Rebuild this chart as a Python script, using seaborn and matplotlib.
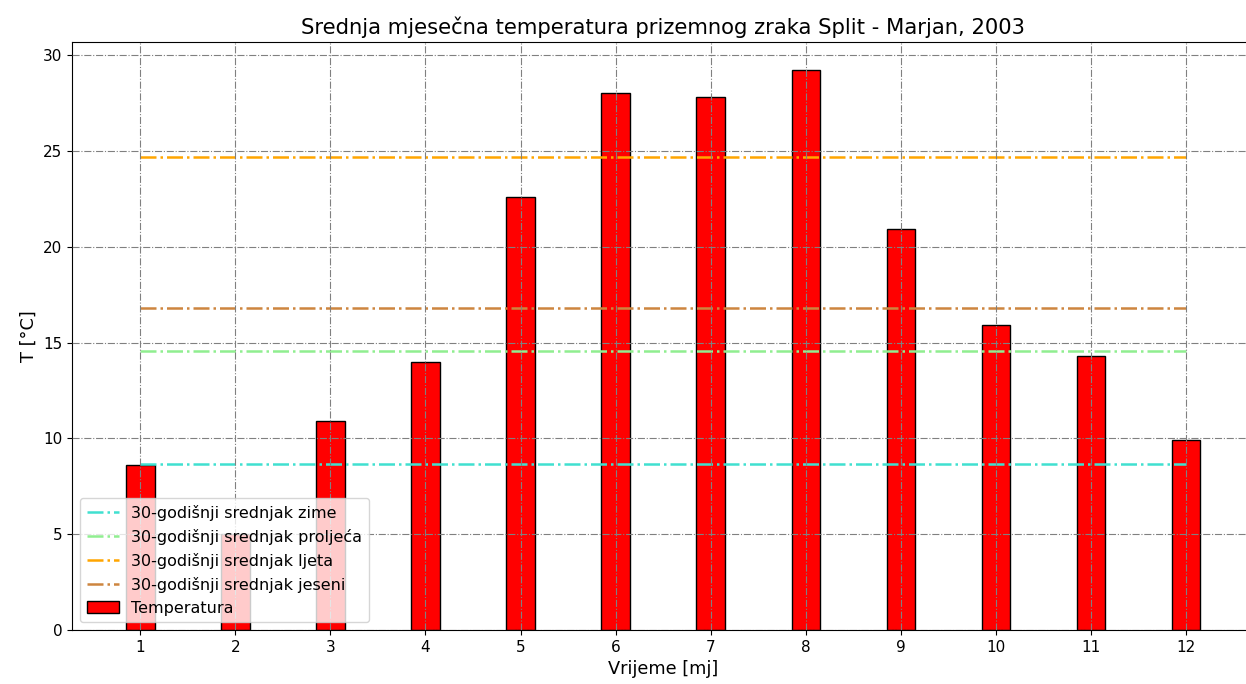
import matplotlib
matplotlib.use("Agg")
import matplotlib.pyplot as plt
import numpy as np
import pandas as pd
import seaborn as sns

months = [1, 2, 3, 4, 5, 6, 7, 8, 9, 10, 11, 12]
temperature = [8.6, 5.0, 10.9, 14.0, 22.6, 28.0, 27.8, 29.2, 20.9, 15.9, 14.3, 9.9]

# 30-godisnji srednjaci po sezonama
season_labels = ['30-godišnji srednjak zime', '30-godišnji srednjak proljeća',
                 '30-godišnji srednjak ljeta', '30-godišnji srednjak jeseni']
season_means = [8.65, 14.55, 24.7, 16.8]
season_colors = ['turquoise', 'lightgreen', 'orange', 'peru']

plt.rcParams.update({
    'font.size': 11,
    'font.family': ['DejaVu Sans'],
})

df = pd.DataFrame({'mjesec': months, 'T': temperature})

fig, ax = plt.subplots(figsize=(12.46, 6.84), dpi=100)

for label, mean, color in zip(season_labels, season_means, season_colors):
    ax.plot([months[0], months[-1]], [mean, mean], linestyle='-.', color=color,
            linewidth=1.8, label=label)

sns.barplot(data=df, x='mjesec', y='T', native_scale=True, width=0.3,
            color='red', saturation=1, edgecolor='black', linewidth=1,
            label='Temperatura', ax=ax)

ax.set_xticks(months)
ax.grid(True, color='grey', linestyle='-.', linewidth=0.8)
ax.set_axisbelow(False)
ax.tick_params(labelsize=11)
ax.set_title('Srednja mjesečna temperatura prizemnog zraka Split - Marjan, 2003', fontsize=15.2)
ax.set_xlabel('Vrijeme [mj]', fontsize=12.8)
ax.set_ylabel('T [°C]', fontsize=12.8)
ax.legend(loc='lower left', fontsize=11.5)

# the reference image is cut off just before the right spine
fig.subplots_adjust(left=0.058, right=1.0065, bottom=0.079, top=0.938)
fig.savefig('out.png')
